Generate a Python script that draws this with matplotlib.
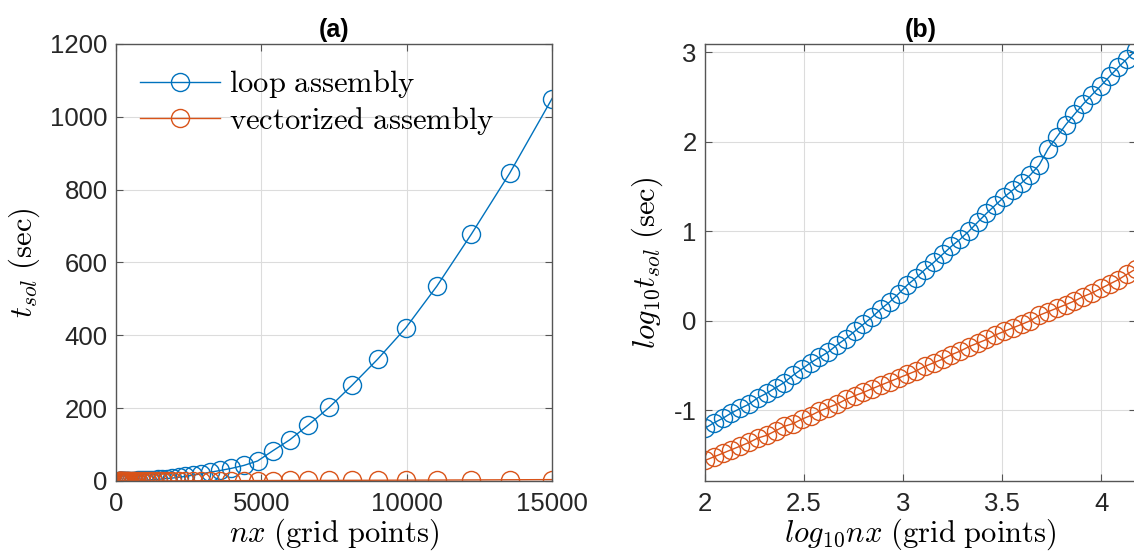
import matplotlib.pyplot as plt
import numpy as np
from matplotlib.ticker import FormatStrFormatter

plt.rcParams['font.family'] = ['Liberation Sans', 'DejaVu Sans']
plt.rcParams['mathtext.fontset'] = 'cm'
plt.rcParams['axes.unicode_minus'] = False

# grid sizes (log-spaced, 100 .. 15000)
nx = [100, 111, 123, 136, 151, 167, 185, 205, 227, 251,
      278, 308, 341, 378, 419, 464, 514, 569, 630, 698,
      773, 856, 949, 1051, 1164, 1289, 1428, 1582, 1752, 1941,
      2150, 2381, 2637, 2921, 3236, 3584, 3970, 4398, 4871, 5395,
      5976, 6620, 7332, 8122, 8996, 9965, 11038, 12226, 13542, 15000]

# solution time (sec), loop assembly
t_loop = [0.0631, 0.0724, 0.0813, 0.0933, 0.105, 0.117, 0.138, 0.155, 0.178, 0.204,
          0.245, 0.288, 0.339, 0.389, 0.447, 0.537, 0.631, 0.759, 0.912, 1.10,
          1.35, 1.62, 2.00, 2.51, 3.02, 3.72, 4.47, 5.50, 6.76, 8.13,
          10.0, 12.6, 15.8, 19.5, 24.0, 28.8, 34.7, 42.7, 55.0, 83.0,
          113, 154, 202, 263, 334, 420, 535, 678, 845, 1050]

# solution time (sec), vectorized assembly
t_vec = [0.0275, 0.0302, 0.0331, 0.0363, 0.0398, 0.0437, 0.0490, 0.0525, 0.0589, 0.0661,
         0.0708, 0.0794, 0.0871, 0.0977, 0.107, 0.117, 0.132, 0.145, 0.158, 0.174,
         0.191, 0.209, 0.229, 0.251, 0.275, 0.309, 0.339, 0.372, 0.417, 0.457,
         0.513, 0.562, 0.617, 0.692, 0.759, 0.832, 0.912, 1.00, 1.15, 1.26,
         1.38, 1.51, 1.66, 1.86, 2.04, 2.29, 2.57, 2.88, 3.31, 3.80]

nx = np.array(nx, dtype=float)
t_loop = np.array(t_loop)
t_vec = np.array(t_vec)

blue = '#0072BD'
orange = '#D95319'
ms = 13
tick_fs = 18.5
lab_fs = 22


def style(ax):
    ax.grid(True, color='#dcdcdc', linewidth=0.8)
    ax.set_axisbelow(True)
    for s in ax.spines.values():
        s.set_color('#555555')
        s.set_linewidth(1.0)
    ax.tick_params(direction='in', length=5, width=0.8, color='#555555',
                   top=True, right=True, labelsize=tick_fs, labelcolor='#262626')
    ax.tick_params(axis='x', pad=8)
    ax.tick_params(axis='y', pad=6)


fig = plt.figure(figsize=(11.34, 5.54), dpi=100)
ax1 = fig.add_axes([0.1023, 0.1318, 0.3845, 0.7888])
ax2 = fig.add_axes([0.6217, 0.1318, 0.3801, 0.7888])

# (a) linear
ax1.plot(nx, t_loop, '-o', color=blue, mfc='none', ms=ms, mew=1.0, lw=1.0,
         label=r'$\mathrm{loop\ assembly}$')
ax1.plot(nx, t_vec, '-o', color=orange, mfc='none', ms=ms, mew=1.0, lw=1.0,
         label=r'$\mathrm{vectorized\ assembly}$')
ax1.set_xlim(0, 15000)
ax1.set_ylim(0, 1200)
ax1.set_xticks([0, 5000, 10000, 15000])
ax1.set_yticks(np.arange(0, 1201, 200))
style(ax1)
ax1.set_title('(a)', fontsize=18, fontweight='bold', pad=5)
ax1.set_xlabel(r'$nx\ \mathrm{(grid\ points)}$', fontsize=lab_fs, labelpad=0)
ax1.set_ylabel(r'$t_{sol}\ \mathrm{(sec)}$', fontsize=lab_fs, labelpad=6)
ax1.legend(loc='upper left', frameon=False, fontsize=lab_fs, handlelength=2.6,
           handletextpad=0.3, borderaxespad=0.4, labelspacing=0.15)

# (b) log-log
ax2.plot(np.log10(nx), np.log10(t_loop), '-o', color=blue, mfc='none', ms=ms,
         mew=1.0, lw=1.0)
ax2.plot(np.log10(nx), np.log10(t_vec), '-o', color=orange, mfc='none', ms=ms,
         mew=1.0, lw=1.0)
ax2.set_xlim(2, np.log10(15000))
ax2.set_ylim(-1.79, 3.09)
ax2.set_xticks([2, 2.5, 3, 3.5, 4])
ax2.set_yticks([-1, 0, 1, 2, 3])
ax2.xaxis.set_major_formatter(FormatStrFormatter('%g'))
ax2.yaxis.set_major_formatter(FormatStrFormatter('%g'))
style(ax2)
ax2.set_title('(b)', fontsize=18, fontweight='bold', pad=5)
ax2.set_xlabel(r'$log_{10}nx\ \mathrm{(grid\ points)}$', fontsize=lab_fs, labelpad=0)
ax2.set_ylabel(r'$log_{10}t_{sol}\ \mathrm{(sec)}$', fontsize=lab_fs, labelpad=6)

fig.savefig('out.png', dpi=100)
